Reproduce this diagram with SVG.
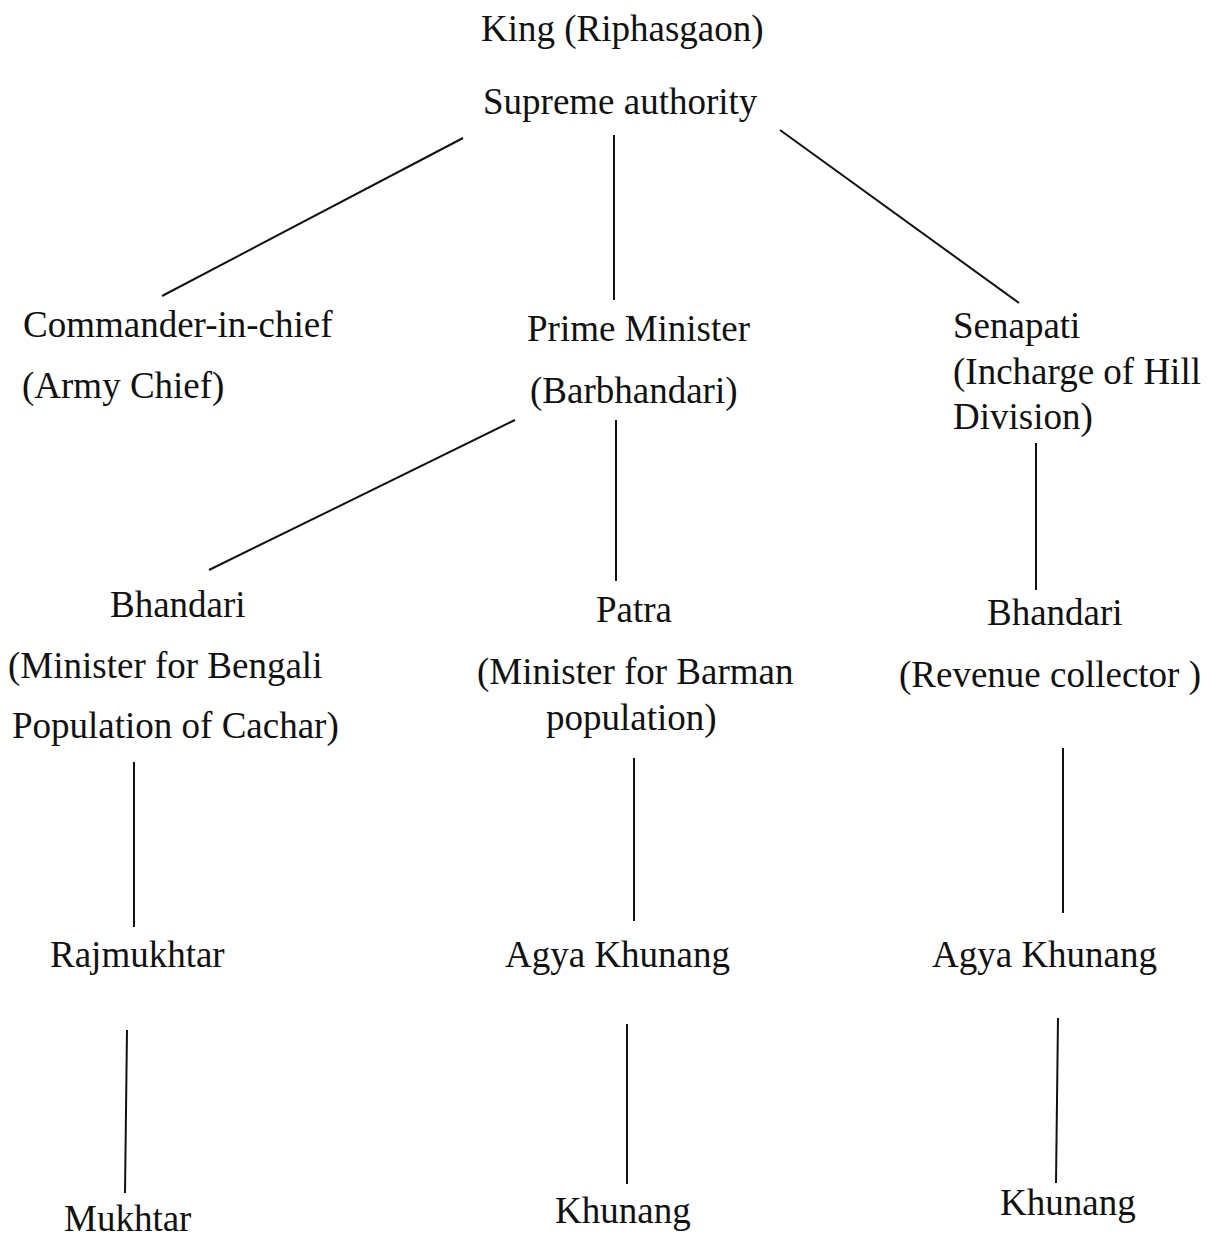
<svg xmlns="http://www.w3.org/2000/svg" width="1211" height="1238" viewBox="0 0 1211 1238">
<style>
text{font-family:"Liberation Serif","Times New Roman",serif;font-size:37px;fill:#111}
.c line{stroke:#111;stroke-width:2}
</style>
<rect width="1211" height="1238" fill="#fff"/>
<g class="c" id="connectors">
<line x1="463" y1="138" x2="162" y2="296"/>
<line x1="614" y1="135" x2="614" y2="300"/>
<line x1="780" y1="130" x2="1019" y2="303"/>
<line x1="515" y1="420" x2="209" y2="570"/>
<line x1="616" y1="420" x2="616" y2="581"/>
<line x1="1036" y1="443" x2="1036" y2="590"/>
<line x1="134" y1="762" x2="134" y2="927"/>
<line x1="634" y1="758" x2="634" y2="921"/>
<line x1="1063" y1="748" x2="1063" y2="913"/>
<line x1="127" y1="1030" x2="125" y2="1193"/>
<line x1="627" y1="1024" x2="627" y2="1184"/>
<line x1="1058" y1="1018" x2="1056" y2="1183"/>
</g>
<g id="king"><text x="481" y="41">King (Riphasgaon)</text><text x="483" y="114">Supreme authority</text></g>
<g id="commander"><text x="23" y="337">Commander-in-chief</text><text x="22" y="398">(Army Chief)</text></g>
<g id="prime"><text x="527" y="341">Prime Minister</text><text x="530" y="403">(Barbhandari)</text></g>
<g id="senapati"><text x="953" y="338">Senapati</text><text x="953" y="384">(Incharge of Hill</text><text x="953" y="429">Division)</text></g>
<g id="bhandari1"><text x="110" y="617">Bhandari</text><text x="8" y="678">(Minister for Bengali</text><text x="12" y="738">Population of Cachar)</text></g>
<g id="patra"><text x="596" y="622">Patra</text><text x="477" y="684">(Minister for Barman</text><text x="546" y="730">population)</text></g>
<g id="bhandari2"><text x="987" y="625">Bhandari</text><text x="899" y="687">(Revenue collector )</text></g>
<g id="rajmukhtar"><text x="50" y="967">Rajmukhtar</text></g>
<g id="agya1"><text x="505" y="967">Agya Khunang</text></g>
<g id="agya2"><text x="932" y="967">Agya Khunang</text></g>
<g id="mukhtar"><text x="64" y="1231">Mukhtar</text></g>
<g id="khunang1"><text x="555" y="1223">Khunang</text></g>
<g id="khunang2"><text x="1000" y="1215">Khunang</text></g>
</svg>
